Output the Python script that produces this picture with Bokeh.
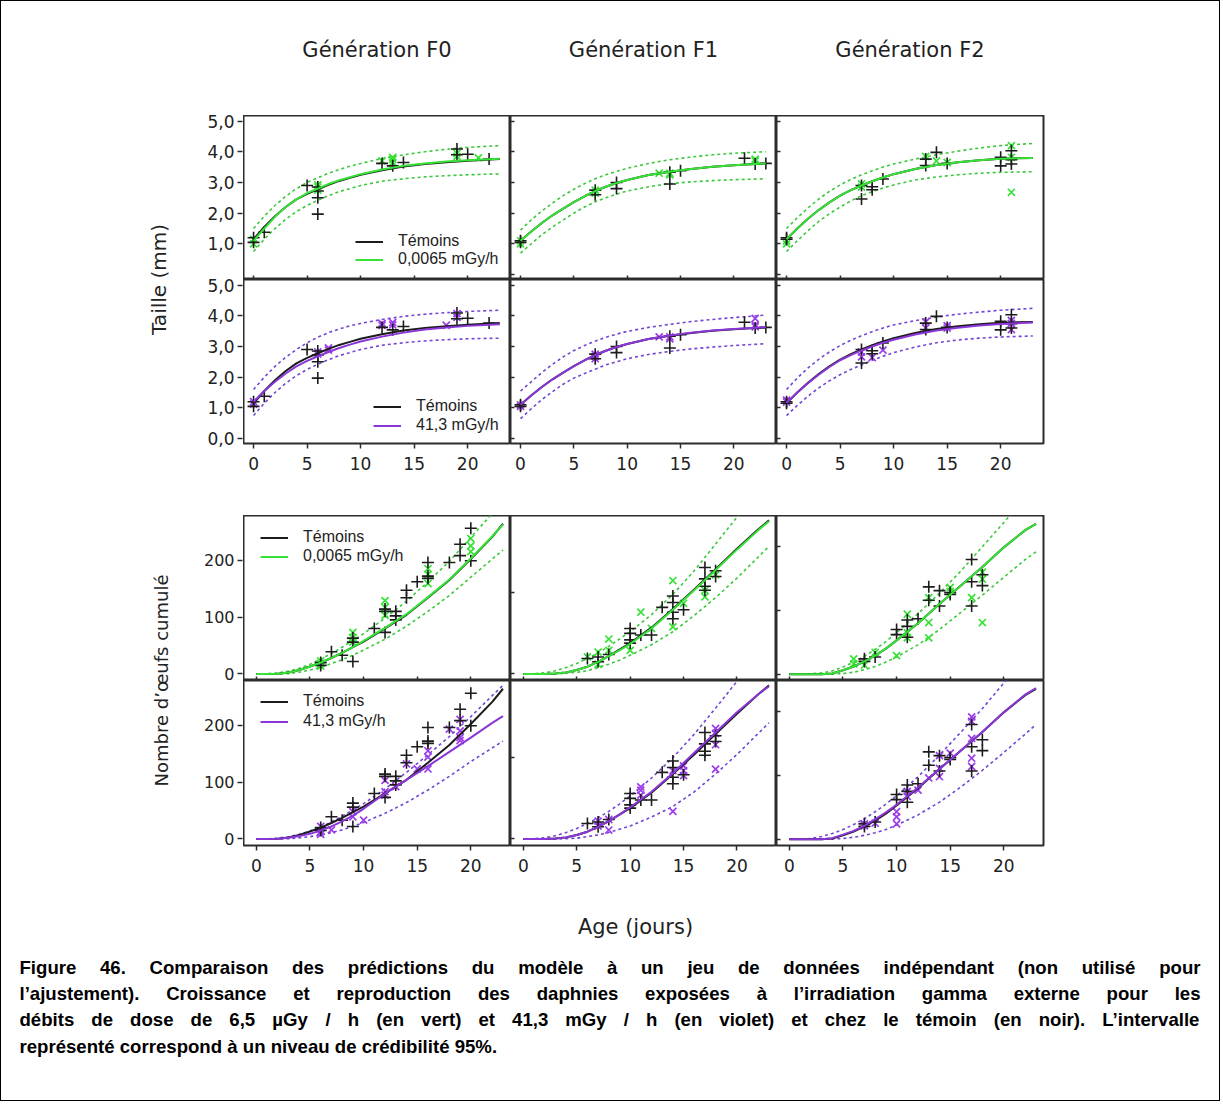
from bokeh.plotting import figure
from bokeh.layouts import row, column
from bokeh.models import Range1d, FixedTicker, Legend, LegendItem, Title, LinearAxis
from bokeh.embed import file_html
from bokeh.resources import INLINE
from bokeh.core.properties import value

# ------------------------------------------------------------------ data
GENERATIONS = ["Génération F0", "Génération F1", "Génération F2"]
LEGEND_CTRL = "Témoins"
LEGEND_LOW = "0,0065 mGy/h"
LEGEND_HIGH = "41,3 mGy/h"
X_LABEL = "Age (jours)"
Y_LABEL_SIZE = "Taille (mm)"
Y_LABEL_EGG = "Nombre d’œufs cumulé"
SIZE_TICKS = [0, 1, 2, 3, 4, 5]
SIZE_TICK_LABELS = ["0,0", "1,0", "2,0", "3,0", "4,0", "5,0"]
EGG_TICKS = [0, 100, 200]
EGG_TICK_LABELS = ["0", "100", "200"]
DAY_TICKS = [0, 5, 10, 15, 20]

SIZE_T = [0, 1, 2, 3, 4, 5, 6, 7, 8, 9, 10, 12, 14, 16, 18, 20, 23]
EGG_T = [0, 1, 2, 3, 4, 5, 6, 7, 8, 9, 10, 12, 14, 16, 18, 20, 22, 23]

# ---- size (mm) observations
ctrl_size_f0_day = [0, 0, 1, 5, 6, 6, 6, 6, 12, 13, 14, 19, 19, 20, 22]
ctrl_size_f0_len = [1.2, 1.05, 1.38, 2.9, 2.72, 2.5, 1.97, 2.85, 3.62, 3.54, 3.65, 4.09, 3.9, 3.92, 3.76]
green_size_f0_day = [0, 0, 6, 6, 6, 12, 13, 13, 13, 19, 19, 21]
green_size_f0_len = [1.0, 1.15, 2.85, 2.92, 2.75, 3.7, 3.75, 3.82, 3.65, 3.95, 3.85, 3.8]
violet_size_f0_day = [0, 0, 6, 6, 7, 7, 12, 12, 13, 13, 18, 19, 19]
violet_size_f0_len = [1.2, 1.12, 2.82, 2.75, 2.88, 2.95, 3.69, 3.75, 3.78, 3.7, 3.69, 4.07, 3.95]

ctrl_size_f1_day = [0, 0, 7, 7, 9, 9, 14, 14, 15, 21, 22, 23]
ctrl_size_f1_len = [1.1, 1.05, 2.6, 2.75, 3.0, 2.8, 3.33, 2.95, 3.38, 3.79, 3.6, 3.62]
green_size_f1_day = [0, 0, 7, 7, 13, 14, 14, 22, 22]
green_size_f1_len = [1.1, 1.0, 2.75, 2.65, 3.3, 3.3, 3.25, 3.76, 3.7]
violet_size_f1_day = [0, 0, 7, 7, 7, 13, 14, 14, 22, 22, 22]
violet_size_f1_len = [1.1, 1.05, 2.68, 2.75, 2.6, 3.31, 3.31, 3.25, 3.91, 3.64, 3.7]

ctrl_size_f2_day = [0, 0, 7, 7, 8, 8, 9, 13, 13, 14, 15, 20, 20, 21, 21, 21]
ctrl_size_f2_len = [1.15, 1.2, 2.46, 2.9, 2.86, 2.76, 3.11, 3.76, 3.55, 3.98, 3.62, 3.82, 3.54, 4.03, 3.74, 3.6]
green_size_f2_day = [0, 0, 7, 7, 13, 14, 15, 21, 21, 21]
green_size_f2_len = [1.0, 1.1, 2.95, 2.85, 3.85, 3.7, 3.65, 4.2, 3.82, 2.68]
violet_size_f2_day = [0, 0, 7, 7, 8, 9, 13, 13, 15, 15, 21, 21, 21]
violet_size_f2_len = [1.19, 1.25, 2.82, 2.66, 2.64, 2.88, 3.8, 3.6, 3.68, 3.6, 3.75, 3.55, 3.85]

# ---- size model predictions (read at SIZE_T)
ctrl_fit_f0 = [1.15, 1.55, 1.9, 2.2, 2.45, 2.63, 2.78, 2.92, 3.05, 3.15, 3.25, 3.4, 3.52, 3.6, 3.66, 3.71, 3.76]
green_fit_f0 = [1.1, 1.5, 1.88, 2.2, 2.45, 2.65, 2.8, 2.95, 3.07, 3.17, 3.27, 3.42, 3.54, 3.62, 3.68, 3.72, 3.77]
green_hi_f0 = [1.5, 1.9, 2.25, 2.55, 2.8, 3.0, 3.15, 3.3, 3.42, 3.53, 3.62, 3.78, 3.9, 4.0, 4.08, 4.14, 4.2]
green_lo_f0 = [0.75, 1.15, 1.5, 1.8, 2.05, 2.25, 2.42, 2.57, 2.7, 2.8, 2.9, 3.04, 3.12, 3.18, 3.22, 3.25, 3.28]
violet_fit_f0 = [1.2, 1.55, 1.85, 2.12, 2.35, 2.53, 2.68, 2.82, 2.95, 3.06, 3.16, 3.32, 3.45, 3.55, 3.62, 3.67, 3.72]
violet_hi_f0 = [1.6, 2.0, 2.35, 2.65, 2.9, 3.12, 3.3, 3.45, 3.57, 3.67, 3.75, 3.88, 3.98, 4.05, 4.1, 4.14, 4.18]
violet_lo_f0 = [0.75, 1.15, 1.5, 1.8, 2.05, 2.25, 2.42, 2.57, 2.7, 2.8, 2.9, 3.04, 3.12, 3.18, 3.22, 3.25, 3.27]

ctrl_fit_f1 = [1.1, 1.4, 1.68, 1.93, 2.15, 2.36, 2.55, 2.72, 2.86, 2.98, 3.08, 3.24, 3.35, 3.44, 3.51, 3.56, 3.62]
green_fit_f1 = [1.1, 1.4, 1.68, 1.93, 2.15, 2.36, 2.55, 2.72, 2.86, 2.98, 3.08, 3.24, 3.35, 3.44, 3.51, 3.56, 3.62]
green_hi_f1 = [1.45, 1.78, 2.07, 2.33, 2.57, 2.78, 2.96, 3.12, 3.25, 3.36, 3.46, 3.62, 3.74, 3.83, 3.9, 3.95, 4.0]
green_lo_f1 = [0.7, 1.0, 1.3, 1.55, 1.78, 2.0, 2.2, 2.37, 2.5, 2.62, 2.72, 2.86, 2.96, 3.02, 3.06, 3.09, 3.12]
violet_fit_f1 = [1.1, 1.4, 1.68, 1.93, 2.15, 2.36, 2.55, 2.72, 2.86, 2.98, 3.08, 3.24, 3.36, 3.45, 3.52, 3.57, 3.63]
violet_hi_f1 = [1.55, 1.85, 2.15, 2.42, 2.66, 2.87, 3.03, 3.17, 3.3, 3.4, 3.49, 3.62, 3.72, 3.81, 3.88, 3.94, 4.02]
violet_lo_f1 = [0.65, 0.97, 1.27, 1.53, 1.77, 1.97, 2.12, 2.26, 2.4, 2.5, 2.6, 2.74, 2.84, 2.92, 2.98, 3.03, 3.09]

ctrl_fit_f2 = [1.15, 1.5, 1.82, 2.1, 2.35, 2.57, 2.75, 2.9, 3.04, 3.16, 3.27, 3.44, 3.57, 3.66, 3.72, 3.77, 3.8]
green_fit_f2 = [1.15, 1.5, 1.82, 2.1, 2.35, 2.57, 2.75, 2.9, 3.04, 3.16, 3.27, 3.44, 3.57, 3.66, 3.72, 3.77, 3.8]
green_hi_f2 = [1.5, 1.85, 2.17, 2.46, 2.71, 2.92, 3.1, 3.25, 3.38, 3.5, 3.6, 3.76, 3.9, 4.02, 4.12, 4.2, 4.27]
green_lo_f2 = [0.75, 1.1, 1.43, 1.73, 1.98, 2.2, 2.4, 2.57, 2.7, 2.82, 2.92, 3.08, 3.18, 3.25, 3.3, 3.33, 3.35]
violet_fit_f2 = [1.17, 1.5, 1.8, 2.08, 2.33, 2.55, 2.72, 2.87, 3.0, 3.12, 3.22, 3.39, 3.52, 3.61, 3.68, 3.73, 3.78]
violet_hi_f2 = [1.6, 1.97, 2.3, 2.58, 2.82, 3.03, 3.2, 3.35, 3.48, 3.6, 3.7, 3.84, 3.96, 4.05, 4.12, 4.18, 4.24]
violet_lo_f2 = [0.75, 1.08, 1.38, 1.65, 1.88, 2.08, 2.25, 2.4, 2.55, 2.68, 2.8, 2.98, 3.12, 3.21, 3.27, 3.31, 3.34]

# ---- cumulated eggs observations
ctrl_egg_f0_day = [6, 6, 7, 8, 9, 9, 9, 11, 12, 12, 12, 13, 13, 13, 14, 14, 15, 16, 16, 16, 18, 19, 19, 20, 20]
ctrl_egg_f0_n = [20, 15, 39, 33, 63, 56, 22, 80, 114, 110, 73, 110, 102, 95, 147, 134, 162, 196, 172, 168, 196, 228, 208, 256, 199]
green_egg_f0_day = [6, 6, 6, 9, 9, 9, 12, 12, 12, 16, 16, 16, 20, 20, 20]
green_egg_f0_n = [23, 14, 18, 73, 64, 56, 129, 117, 103, 185, 175, 159, 238, 225, 215]
violet_egg_f0_day = [6, 6, 6, 7, 9, 9, 10, 12, 12, 12, 13, 14, 15, 16, 16, 16, 18, 19, 19, 19, 19]
violet_egg_f0_n = [13, 22, 8, 16, 48, 39, 33, 103, 83, 77, 92, 132, 123, 155, 144, 123, 193, 210, 190, 178, 173]

ctrl_egg_f1_day = [6, 7, 7, 8, 10, 10, 10, 10, 11, 12, 13, 14, 14, 14, 14, 15, 17, 17, 17, 17, 18, 18]
ctrl_egg_f1_n = [19, 21, 15, 24, 56, 50, 42, 38, 48, 48, 82, 96, 88, 76, 68, 79, 131, 117, 108, 103, 127, 120]
green_egg_f1_day = [6, 7, 7, 8, 8, 10, 11, 12, 14, 14, 15, 17, 17, 18]
green_egg_f1_n = [21, 12, 27, 43, 29, 29, 76, 56, 115, 58, 87, 103, 95, 122]
violet_egg_f1_day = [7, 7, 8, 8, 11, 11, 11, 14, 14, 15, 15, 15, 18, 18, 18, 18]
violet_egg_f1_n = [22, 16, 24, 11, 60, 54, 64, 84, 34, 90, 84, 78, 136, 130, 116, 86]

ctrl_egg_f2_day = [7, 7, 8, 10, 10, 11, 11, 11, 12, 13, 13, 14, 14, 15, 15, 17, 17, 17, 18, 18]
ctrl_egg_f2_n = [20, 24, 27, 70, 62, 85, 75, 58, 87, 137, 116, 131, 107, 128, 125, 180, 145, 107, 156, 139]
green_egg_f2_day = [6, 6, 7, 8, 10, 11, 11, 11, 13, 13, 13, 15, 15, 17, 18, 18, 18]
green_egg_f2_n = [24, 16, 14, 34, 29, 94, 65, 57, 120, 81, 57, 136, 130, 120, 160, 81, 149]
violet_egg_f2_day = [7, 7, 8, 10, 10, 10, 11, 11, 12, 13, 14, 14, 14, 15, 17, 17, 17, 17, 17]
violet_egg_f2_n = [24, 21, 25, 43, 35, 24, 75, 67, 77, 96, 131, 111, 98, 135, 192, 185, 158, 127, 114]

# ---- egg model predictions (read at EGG_T)
ctrl_egg_fit_f0 = [0, 0, 0.5, 2.5, 7, 13, 20, 28, 37, 47, 57, 80, 104, 134, 165, 202, 241, 264]
green_egg_fit_f0 = [0, 0, 0.5, 2.5, 7, 13, 20, 28, 37, 47, 58, 81, 105, 135, 166, 203, 242, 263]
green_egg_hi_f0 = [0, 0.5, 2, 5, 10, 17, 26, 36, 47, 59, 71, 98, 128, 162, 198, 240, 282, 304]
green_egg_lo_f0 = [0, 0, 0, 0.5, 3, 7, 12, 18, 25, 33, 42, 61, 84, 110, 138, 170, 202, 218]
violet_egg_fit_f0 = [0, 0, 0.5, 2, 5, 9, 15, 22, 31, 41, 53, 80, 104, 128, 153, 178, 204, 216]
violet_egg_hi_f0 = [0, 0.3, 1.5, 4, 8, 14, 21, 30, 40, 51, 62, 88, 117, 148, 180, 215, 252, 270]
violet_egg_lo_f0 = [0, 0, 0, 0.5, 2, 4, 7, 11, 16, 22, 29, 45, 64, 86, 110, 136, 160, 172]

ctrl_egg_fit_f1 = [0, 0, 0, 0.5, 2, 5, 9, 15, 22, 30, 38, 57, 80, 104, 129, 154, 178, 189]
green_egg_fit_f1 = [0, 0, 0, 0.5, 2, 5, 9, 15, 22, 29, 37, 56, 79, 103, 128, 153, 177, 188]
green_egg_hi_f1 = [0, 0.3, 1.5, 4, 8, 13, 19, 26, 34, 43, 52, 73, 98, 127, 160, 193, 228, 246]
green_egg_lo_f1 = [0, 0, 0, 0, 1, 2, 4, 8, 12, 17, 23, 36, 52, 72, 94, 118, 144, 157]
violet_egg_fit_f1 = [0, 0, 0, 0.5, 2, 5, 9, 15, 22, 30, 39, 58, 81, 106, 131, 156, 178, 188]
violet_egg_hi_f1 = [0, 0.3, 1.5, 4, 8, 13, 19, 26, 34, 43, 53, 75, 100, 129, 161, 194, 229, 247]
violet_egg_lo_f1 = [0, 0, 0, 0, 0.5, 1, 3, 5, 8, 12, 16, 27, 40, 58, 80, 104, 130, 143]

ctrl_egg_fit_f2 = [0, 0, 0, 0, 1, 6, 12, 20, 29, 40, 53, 80, 110, 139, 168, 199, 226, 236]
green_egg_fit_f2 = [0, 0, 0, 0, 1, 6, 12, 20, 29, 40, 53, 80, 110, 139, 168, 199, 226, 236]
green_egg_hi_f2 = [0, 0, 0.5, 2, 5, 11, 19, 28, 39, 51, 65, 95, 127, 162, 200, 238, 276, 295]
green_egg_lo_f2 = [0, 0, 0, 0, 0, 1, 3, 7, 12, 19, 27, 46, 70, 97, 124, 152, 180, 192]
violet_egg_fit_f2 = [0, 0, 0, 0, 1.5, 7, 13, 21, 31, 42, 54, 81, 110, 139, 168, 199, 227, 237]
violet_egg_hi_f2 = [0, 0, 1, 4, 9, 15, 23, 32, 43, 55, 68, 98, 132, 168, 205, 245, 285, 305]
violet_egg_lo_f2 = [0, 0, 0, 0, 0, 1, 3, 6, 10, 15, 22, 38, 58, 82, 108, 136, 165, 180]

CAPTION_LINES = [
    "Figure 46. Comparaison des prédictions du modèle à un jeu de données indépendant (non utilisé pour",
    "l’ajustement). Croissance et reproduction des daphnies exposées à l’irradiation gamma externe pour les",
    "débits de dose de 6,5 µGy / h (en vert) et 41,3 mGy / h (en violet) et chez le témoin (en noir). L’intervalle",
    "représenté correspond à un niveau de crédibilité 95%.",
]

# ------------------------------------------------------------------ style
BLACK = "#1c1c1c"
GREEN = "#35e235"
GREEN_DOT = "#3cc83c"
VIOLET = "#9d3ceb"
VIOLET_LINE = "#8a36d8"
VIOLET_DOT = "#7446d6"
FRAME = "#2c2c2c"
TEXT = "#222222"
SANS = "DejaVu Sans"
ARIAL = "Liberation Sans"

SIZE_XR = (-0.94, 24.0)
SIZE_YR = (-0.16, 5.18)
EGG_XR = (-1.2, 23.7)
EGG_YR = [(-11.5, 278.5), (-8.0, 195.0), (-10.0, 249.0)]

COL_W = [267, 266, 267]
RIGHT_PAD = 176
HEAD = 114
SIZE_H = 164
SIZE_GAP = 72
EGG_H = 165
EGG_BOTTOM = 40
LABEL_W = 242
CAP_H = 215
PANELS_W = sum(COL_W) + RIGHT_PAD
TOTAL_W = LABEL_W + PANELS_W


def panel(col, frame_h, xr, yr, bottom=0):
    right = RIGHT_PAD if col == 2 else 0
    p = figure(width=COL_W[col] + right, height=frame_h + bottom,
               x_range=Range1d(*xr), y_range=Range1d(*yr),
               x_axis_type=None, y_axis_type=None, title=None,
               output_backend="svg", toolbar_location=None,
               min_border_left=0, min_border_right=right,
               min_border_top=0, min_border_bottom=bottom)
    p.outline_line_color = FRAME
    p.outline_line_width = 2
    p.background_fill_color = "white"
    p.border_fill_color = "white"
    return p


def x_axis(p):
    ax = LinearAxis(ticker=FixedTicker(ticks=DAY_TICKS),
                    axis_line_color=None, major_tick_out=5, major_tick_in=0,
                    major_tick_line_color=FRAME, major_tick_line_width=1.5,
                    minor_tick_line_color=None, major_label_standoff=8,
                    major_label_text_font=SANS, major_label_text_font_size="17px",
                    major_label_text_color=TEXT)
    p.add_layout(ax, "below")


def inner_ticks(p, ticks, side):
    # unlabelled tick marks on shared panel edges
    ax = LinearAxis(ticker=FixedTicker(ticks=ticks),
                    axis_line_color=None, major_tick_out=0, major_tick_in=4,
                    major_tick_line_color=FRAME, major_tick_line_width=1.5,
                    minor_tick_line_color=None, major_label_standoff=0,
                    major_label_text_font_size="0px", major_label_text_alpha=0)
    p.add_layout(ax, side)


def legend(p, items, loc, spacing):
    leg = Legend(items=[LegendItem(label=l, renderers=[r]) for l, r in items],
                 location=loc, background_fill_alpha=0, border_line_alpha=0,
                 label_text_font=ARIAL, label_text_font_size="16px",
                 label_text_color=TEXT, glyph_width=28, glyph_height=17,
                 label_height=17, label_standoff=15, spacing=spacing,
                 padding=0, margin=0)
    p.add_layout(leg)


def draw(p, t, fit_c, fit_x, hi_x, lo_x, cd, cv, xd, xv, color, line_color, dot_color):
    p.line(t, hi_x, line_color=dot_color, line_width=1.6, line_dash="3 3")
    p.line(t, lo_x, line_color=dot_color, line_width=1.6, line_dash="3 3")
    p.scatter(xd, xv, marker="x", size=10, line_color=color, line_width=1.7)
    p.scatter(cd, cv, marker="cross", size=12, line_color=BLACK, line_width=1.6)
    r_c = p.line(t, fit_c, line_color=BLACK, line_width=2)
    r_x = p.line(t, fit_x, line_color=line_color, line_width=2)
    return r_c, r_x


def text_canvas(width, height):
    f = figure(width=width, height=height, x_range=Range1d(0, width), y_range=Range1d(0, height),
               x_axis_type=None, y_axis_type=None, title=None,
               output_backend="svg", toolbar_location=None, min_border=0)
    f.outline_line_color = None
    f.border_fill_color = "white"
    f.background_fill_color = "white"
    return f


# ------------------------------------------------------------------ panels
size_sets = [
    (ctrl_size_f0_day, ctrl_size_f0_len, ctrl_fit_f0,
     green_size_f0_day, green_size_f0_len, green_fit_f0, green_hi_f0, green_lo_f0,
     violet_size_f0_day, violet_size_f0_len, violet_fit_f0, violet_hi_f0, violet_lo_f0),
    (ctrl_size_f1_day, ctrl_size_f1_len, ctrl_fit_f1,
     green_size_f1_day, green_size_f1_len, green_fit_f1, green_hi_f1, green_lo_f1,
     violet_size_f1_day, violet_size_f1_len, violet_fit_f1, violet_hi_f1, violet_lo_f1),
    (ctrl_size_f2_day, ctrl_size_f2_len, ctrl_fit_f2,
     green_size_f2_day, green_size_f2_len, green_fit_f2, green_hi_f2, green_lo_f2,
     violet_size_f2_day, violet_size_f2_len, violet_fit_f2, violet_hi_f2, violet_lo_f2),
]
egg_sets = [
    (ctrl_egg_f0_day, ctrl_egg_f0_n, ctrl_egg_fit_f0,
     green_egg_f0_day, green_egg_f0_n, green_egg_fit_f0, green_egg_hi_f0, green_egg_lo_f0,
     violet_egg_f0_day, violet_egg_f0_n, violet_egg_fit_f0, violet_egg_hi_f0, violet_egg_lo_f0),
    (ctrl_egg_f1_day, ctrl_egg_f1_n, ctrl_egg_fit_f1,
     green_egg_f1_day, green_egg_f1_n, green_egg_fit_f1, green_egg_hi_f1, green_egg_lo_f1,
     violet_egg_f1_day, violet_egg_f1_n, violet_egg_fit_f1, violet_egg_hi_f1, violet_egg_lo_f1),
    (ctrl_egg_f2_day, ctrl_egg_f2_n, ctrl_egg_fit_f2,
     green_egg_f2_day, green_egg_f2_n, green_egg_fit_f2, green_egg_hi_f2, green_egg_lo_f2,
     violet_egg_f2_day, violet_egg_f2_n, violet_egg_fit_f2, violet_egg_hi_f2, violet_egg_lo_f2),
]

row1, row2, row3, row4 = [], [], [], []
for c in range(3):
    (cd, cv, cf, gd, gv, gf, gh, gl, vd, vv, vf, vh, vl) = size_sets[c]
    p1 = panel(c, SIZE_H, SIZE_XR, SIZE_YR)
    r_c, r_x = draw(p1, SIZE_T, cf, gf, gh, gl, cd, cv, gd, gv, GREEN, GREEN, GREEN_DOT)
    inner_ticks(p1, DAY_TICKS, "below")
    if c == 0:
        legend(p1, [(LEGEND_CTRL, r_c), (LEGEND_LOW, r_x)], (112, 11), 0)
    else:
        inner_ticks(p1, SIZE_TICKS, "left")
    row1.append(p1)

    p2 = panel(c, SIZE_H, SIZE_XR, SIZE_YR, bottom=SIZE_GAP)
    r_c, r_x = draw(p2, SIZE_T, cf, vf, vh, vl, cd, cv, vd, vv, VIOLET, VIOLET_LINE, VIOLET_DOT)
    x_axis(p2)
    if c == 0:
        legend(p2, [(LEGEND_CTRL, r_c), (LEGEND_HIGH, r_x)], (130, 9), 1)
    else:
        inner_ticks(p2, SIZE_TICKS, "left")
    row2.append(p2)

    (cd, cv, cf, gd, gv, gf, gh, gl, vd, vv, vf, vh, vl) = egg_sets[c]
    p3 = panel(c, EGG_H, EGG_XR, EGG_YR[c])
    r_c, r_x = draw(p3, EGG_T, cf, gf, gh, gl, cd, cv, gd, gv, GREEN, GREEN, GREEN_DOT)
    inner_ticks(p3, DAY_TICKS, "below")
    if c == 0:
        legend(p3, [(LEGEND_CTRL, r_c), (LEGEND_LOW, r_x)], (17, 115), 1)
    else:
        inner_ticks(p3, EGG_TICKS, "left")
    row3.append(p3)

    p4 = panel(c, EGG_H, EGG_XR, EGG_YR[c], bottom=EGG_BOTTOM)
    r_c, r_x = draw(p4, EGG_T, cf, vf, vh, vl, cd, cv, vd, vv, VIOLET, VIOLET_LINE, VIOLET_DOT)
    x_axis(p4)
    if c == 0:
        legend(p4, [(LEGEND_CTRL, r_c), (LEGEND_HIGH, r_x)], (17, 115), 2)
    else:
        inner_ticks(p4, EGG_TICKS, "left")
    row4.append(p4)

# ---- column headers
header = text_canvas(PANELS_W, HEAD)
col_centres = [sum(COL_W[:i]) + COL_W[i] / 2 for i in range(3)]
header.text(x=col_centres, y=[HEAD - 48.5] * 3, text=GENERATIONS,
            text_font=value(SANS), text_font_size="21px", text_color=TEXT,
            text_align="center", text_baseline="middle")


# ---- left column: stacked y axes (upper panel above lower panel) + axis titles
def label_fig(height, top, bottom, yr, ticks, labels, skip_first_upper, font_size,
              text, text_size, title_standoff):
    span = yr[1] - yr[0]
    upper = [t + span for t in ticks]
    up_labels = list(labels)
    if skip_first_upper:
        upper, up_labels = upper[1:], up_labels[1:]
    all_ticks = list(ticks) + upper
    overrides = {t: l for t, l in zip(all_ticks, list(labels) + up_labels)}
    f = figure(width=LABEL_W, height=height, x_range=Range1d(0, 1),
               y_range=Range1d(yr[0], yr[1] + span),
               x_axis_type=None, y_axis_type=None, title=None,
               output_backend="svg", toolbar_location=None,
               min_border_left=LABEL_W - 1, min_border_right=0,
               min_border_top=top, min_border_bottom=bottom)
    f.outline_line_color = None
    f.border_fill_color = "white"
    f.background_fill_color = "white"
    ax = LinearAxis(ticker=FixedTicker(ticks=all_ticks), major_label_overrides=overrides,
                    axis_line_color=None, major_tick_out=5, major_tick_in=0,
                    major_tick_line_color=FRAME, major_tick_line_width=1.5,
                    minor_tick_line_color=None, major_label_standoff=3,
                    major_label_text_font=SANS, major_label_text_font_size=font_size,
                    major_label_text_color=TEXT)
    f.add_layout(ax, "left")
    f.add_layout(Title(text=text, align="center", text_font=SANS, text_font_size=text_size,
                       text_font_style="normal", text_color=TEXT,
                       standoff=title_standoff), "left")
    return f


ylab_size = label_fig(HEAD + 2 * SIZE_H + SIZE_GAP, HEAD, SIZE_GAP, SIZE_YR,
                      SIZE_TICKS, SIZE_TICK_LABELS, True, "17px", Y_LABEL_SIZE, "20px", 68)
ylab_egg = label_fig(2 * EGG_H + EGG_BOTTOM, 0, EGG_BOTTOM, EGG_YR[0],
                     EGG_TICKS, EGG_TICK_LABELS, False, "16px", Y_LABEL_EGG, "18px", 58)

# ------------------------------------------------------------------ x label + caption
ARIAL_BOLD = {
    " ": 278, "%": 889, "(": 333, ")": 333, ",": 278, ".": 278, "/": 278, "’": 278,
    "0": 556, "1": 556, "2": 556, "3": 556, "4": 556, "5": 556, "6": 556, "7": 556, "8": 556, "9": 556,
    "C": 722, "F": 611, "G": 778, "L": 611,
    "a": 556, "b": 611, "c": 556, "d": 611, "e": 556, "f": 333, "g": 611, "h": 611, "i": 278,
    "j": 278, "k": 556, "l": 278, "m": 889, "n": 611, "o": 611, "p": 611, "q": 611, "r": 389,
    "s": 556, "t": 333, "u": 611, "v": 556, "w": 778, "x": 556, "y": 556, "z": 500,
    "é": 556, "è": 556, "à": 556, "µ": 611,
}
CAP_FS = 18.6
CAP_LEFT, CAP_RIGHT = 18, 1199
CAP_Y = [CAP_H - 81.5, CAP_H - 107.5, CAP_H - 133.5, CAP_H - 160.5]


def tw(s):
    return sum(ARIAL_BOLD.get(ch, 556) for ch in s) * CAP_FS / 1000.0


cx, cy, ct = [], [], []
for i, line in enumerate(CAPTION_LINES):
    words = line.split(" ")
    widths = [tw(w) for w in words]
    if i < len(CAPTION_LINES) - 1:
        gap = (CAP_RIGHT - CAP_LEFT - sum(widths)) / (len(words) - 1)
    else:
        gap = tw(" ")
    x = CAP_LEFT
    for w, wd in zip(words, widths):
        cx.append(x)
        cy.append(CAP_Y[i])
        ct.append(w)
        x += wd + gap

cap = text_canvas(TOTAL_W, CAP_H)
cap.text(x=[LABEL_W + COL_W[0] + COL_W[1] / 2 - 8], y=[CAP_H - 41.5], text=[X_LABEL],
         text_font=value(SANS), text_font_size="21px", text_color=TEXT,
         text_align="center", text_baseline="middle")
cap.text(x=cx, y=cy, text=ct, text_font=value(ARIAL), text_font_style="bold",
         text_font_size=f"{CAP_FS}px", text_baseline="middle", text_align="left",
         text_color="black")

top = row(ylab_size, column(header, row(*row1), row(*row2)))
bottom = row(ylab_egg, column(row(*row3), row(*row4)))
page = column(top, bottom, cap, styles={"border": "1.5px solid black"})

open("out.html", "w").write(file_html(page, INLINE))
